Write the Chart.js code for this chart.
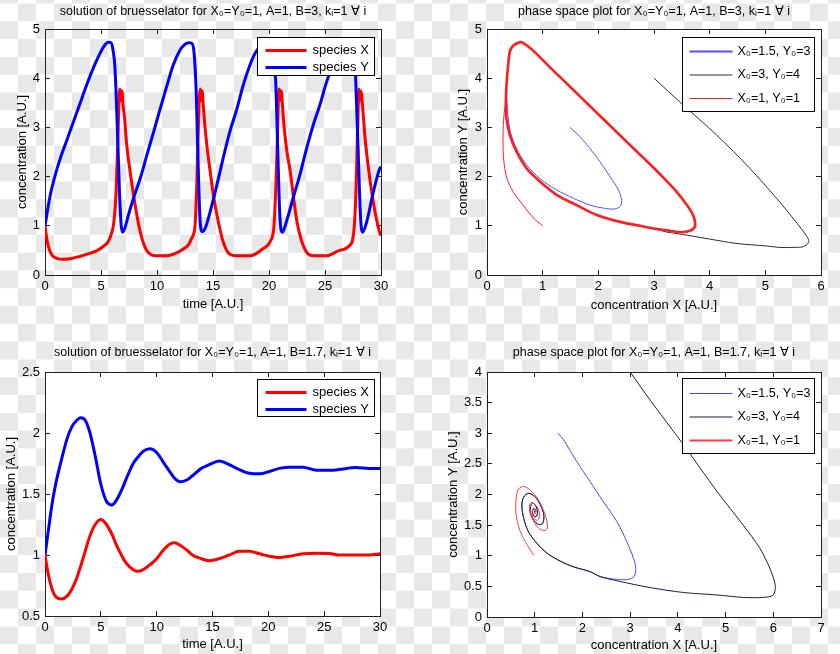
<!DOCTYPE html>
<html>
<head>
<meta charset="utf-8">
<script src="https://cdn.jsdelivr.net/npm/chart.js@4.4.1/dist/chart.umd.min.js"></script>
<style>
  html, body { margin: 0; padding: 0; }
  body {
    width: 840px; height: 654px; position: relative; overflow: hidden;
    background-color: #fff;
    background-image: repeating-conic-gradient(#e8e8e8 0% 25%, #ffffff 0% 50%);
    background-size: 36px 35.6px;
    background-position: 0 3.5px;
  }
  canvas { position: absolute; }
</style>
</head>
<body>
<canvas id="tl" width="420" height="327" style="left:0;top:0"></canvas>
<canvas id="tr" width="420" height="327" style="left:420px;top:0"></canvas>
<canvas id="bl" width="420" height="327" style="left:0;top:327px"></canvas>
<canvas id="br" width="420" height="327" style="left:420px;top:327px"></canvas>
<script>
// B=3, time series
const timeX3 = [0,0.15,0.3,0.6,1.05,1.65,2.25,3.15,4.0,4.6,5.2,5.65,5.95,6.15,6.35,6.5,6.62,6.7,6.78,6.87,
  6.97,7.1,7.3,7.6,7.9,8.2,8.5,8.8,9.1,9.5,10.0,10.9,11.75,12.35,12.8,13.1,13.4,13.55,13.7,13.8,
  13.87,13.95,14.03,14.13,14.25,14.45,14.75,15.05,15.35,15.9,16.5,17.1,18.3,19.5,20.1,20.45,20.7,20.85,20.93,21.01,
  21.1,21.2,21.35,21.6,21.9,22.2,22.5,22.9,23.4,24.0,25.15,26.3,27.2,27.6,27.8,27.95,28.03,28.11,28.2,28.33,
  28.57,29.0,29.46,29.9,30];
const speciesX3 = [1.0,0.75,0.58,0.41,0.34,0.32,0.33,0.38,0.44,0.49,0.58,0.68,0.85,1.08,1.69,2.71,3.6,3.78,3.55,3.74,
  3.45,3.2,2.64,2.1,1.63,1.22,0.88,0.64,0.49,0.41,0.39,0.39,0.45,0.53,0.61,0.75,1.02,1.83,3.05,3.65,
  3.78,3.55,3.74,3.45,3.1,2.64,2.1,1.6,1.22,0.68,0.42,0.39,0.39,0.54,0.68,1.02,2.37,3.6,3.78,3.55,
  3.74,3.45,3.0,2.51,2.1,1.56,1.08,0.7,0.45,0.39,0.39,0.5,0.6,0.95,1.96,3.3,3.78,3.55,3.74,3.5,
  2.8,1.96,1.29,0.85,0.8];
const timeY3 = [0,0.45,0.9,1.35,1.95,2.55,3.15,3.7,4.3,4.9,5.3,5.65,5.9,6.05,6.25,6.45,6.65,6.8,6.95,7.15,
  7.45,7.9,8.5,9.1,9.7,10.3,10.9,11.45,12.05,12.5,12.85,13.1,13.3,13.5,13.7,13.85,14.05,14.3,14.75,15.35,
  15.9,16.5,17.1,17.7,18.3,18.8,19.3,19.75,20.1,20.3,20.45,20.6,20.8,20.98,21.2,21.55,22.15,22.75,23.35,23.95,
  24.55,25.15,25.7,26.2,26.7,27.1,27.4,27.6,27.75,27.98,28.18,28.36,28.72,29.32,29.9,30];
const speciesY3 = [1.0,1.6,2.02,2.36,2.74,3.12,3.5,3.85,4.2,4.5,4.66,4.73,4.72,4.6,4.2,3.05,1.69,1.02,0.87,0.97,
  1.22,1.56,1.96,2.44,2.91,3.39,3.86,4.27,4.57,4.69,4.72,4.71,4.54,3.73,2.03,1.1,0.88,0.95,1.29,1.83,
  2.37,2.91,3.35,3.86,4.27,4.52,4.66,4.72,4.7,4.5,4.2,3.93,2.37,1.15,0.87,1.08,1.56,2.03,2.57,3.05,
  3.46,3.93,4.25,4.5,4.66,4.72,4.68,4.5,3.93,2.37,1.15,0.87,1.08,1.69,2.17,2.2];

// B=1.7, time series
const time17 = [0,0.3,0.6,1.0,1.5,2.0,2.4,2.8,3.2,3.6,4.0,4.5,5.0,5.5,6.0,6.4,6.9,7.3,7.9,8.3,
  8.8,9.4,10.0,10.6,11.2,11.6,12.1,12.7,13.2,14.0,14.7,15.6,16.5,17.4,18.3,19.2,20.1,21.0,21.9,23.1,
  24.3,25.5,26.3,27.8,29.0,30];
const speciesX17 = [1.0,0.84,0.73,0.655,0.64,0.665,0.72,0.80,0.91,1.03,1.15,1.25,1.29,1.25,1.17,1.08,0.99,0.93,0.88,0.866,
  0.88,0.92,0.97,1.04,1.09,1.10,1.08,1.04,1.0,0.97,0.953,0.97,1.0,1.03,1.03,1.01,0.99,0.98,0.99,1.01,
  1.015,1.013,1.0,1.0,1.0,1.01];
const speciesY17 = [1.0,1.2,1.40,1.6,1.79,1.96,2.05,2.10,2.126,2.105,2.01,1.81,1.58,1.44,1.41,1.45,1.54,1.63,1.75,1.80,
  1.85,1.87,1.84,1.76,1.68,1.63,1.60,1.615,1.65,1.71,1.74,1.77,1.74,1.70,1.67,1.665,1.685,1.71,1.72,1.72,
  1.695,1.695,1.70,1.717,1.71,1.709];

// B=3, phase space (limit cycle + the three starts)
const cycX3 = [3.52,3.28,3.02,2.75,2.39,1.97,1.61,1.25,0.95,0.71,0.53,0.41,0.35,0.34,0.35,0.38,0.41,0.47,0.59,0.65,
  0.83,1.07,1.37,1.67,1.97,2.27,2.57,2.8,3.02,3.22,3.40,3.58,3.70,3.74,3.67];
const cycY3 = [0.87,0.9,0.94,1.0,1.08,1.22,1.42,1.63,1.9,2.17,2.51,2.85,3.18,3.52,3.86,4.27,4.54,4.66,4.73,4.72,
  4.56,4.29,3.96,3.63,3.3,2.97,2.64,2.39,2.15,1.92,1.7,1.44,1.22,1.01,0.91];
const blueX3 = [1.49,1.67,1.85,2.03,2.21,2.36,2.42,2.39,2.27,2.09,1.85,1.55,1.25,0.95,0.71,0.53,0.42,0.37];
const blueY3 = [3.0,2.81,2.57,2.30,2.0,1.73,1.52,1.39,1.34,1.36,1.42,1.56,1.73,1.96,2.24,2.57,2.91,3.32];
const blackX3 = [3.0,3.52,4.12,4.72,5.2,5.55,5.73,5.78,5.75,5.66,5.45,5.26,5.02,4.49,4.0,3.59,3.2];
const blackY3 = [4.0,3.46,2.85,2.17,1.56,1.08,0.81,0.7,0.62,0.57,0.56,0.56,0.59,0.64,0.73,0.81,0.88];
const redX3 = [1.0,0.84,0.65,0.47,0.36,0.31,0.29,0.29,0.31,0.34];
const redY3 = [1.0,1.15,1.42,1.69,1.96,2.24,2.51,2.98,3.3,3.6];

// B=1.7, phase space
const blackX17 = [3.0,3.42,4.12,4.82,5.37,5.72,5.93,6.04,6.0,5.79,5.37,4.82,4.12,3.42,2.79,2.37,2.16,1.81,1.54,1.26,
  1.05,0.87,0.77,0.73,0.77,0.87,1.01,1.12,1.19,1.17,1.08,0.98,0.91,0.91,0.96,1.03,1.06,1.03,0.98,0.95,
  0.98,1.01,1.0,0.99];
const blackY17 = [4.0,3.54,2.81,2.05,1.50,1.12,0.79,0.52,0.36,0.32,0.32,0.36,0.40,0.48,0.58,0.66,0.74,0.82,0.91,1.04,
  1.20,1.39,1.61,1.83,1.96,2.02,1.96,1.83,1.67,1.53,1.51,1.58,1.69,1.80,1.86,1.80,1.71,1.64,1.65,1.72,
  1.77,1.75,1.71,1.73];
const blueX17 = [1.49,1.6,1.67,1.88,2.16,2.44,2.72,2.93,3.07,3.12,3.08,2.93,2.65,2.37];
const blueY17 = [3.0,2.9,2.81,2.54,2.21,1.88,1.56,1.23,0.96,0.79,0.66,0.61,0.62,0.66];
const redX17 = [0.98,0.84,0.70,0.61,0.61,0.66,0.77,0.91,1.08,1.22,1.27,1.22,1.08,0.98,0.91,0.89,0.94,1.05,1.10,1.06,
  0.98,0.94,0.98,1.03,1.01,0.99];
const redY17 = [1.01,1.18,1.39,1.67,1.94,2.09,2.13,2.07,1.91,1.67,1.47,1.41,1.45,1.56,1.69,1.83,1.87,1.80,1.67,1.58,
  1.61,1.69,1.76,1.73,1.68,1.72];

const phaseLabels = ['X₀=1.5, Y₀=3', 'X₀=3, Y₀=4', 'X₀=1, Y₀=1'];

const FONT = '"Liberation Sans", Arial, Helvetica, sans-serif';
Chart.defaults.font.family = FONT;
Chart.defaults.font.size = 13;
Chart.defaults.color = '#000';

const pts = (xs, ys) => xs.map((x, i) => ({x: x, y: ys[i]}));

// white plot area where the picture has one
const plotBg = {
  id: 'plotBg',
  beforeDraw(chart, args, o) {
    if (!o.color) return;
    const a = chart.chartArea;
    chart.ctx.save();
    chart.ctx.fillStyle = o.color;
    chart.ctx.fillRect(a.left, a.top, a.width, a.height);
    chart.ctx.restore();
  }
};

// boxed legend inside the axes, top right (matlab style)
const boxLegend = {
  id: 'boxLegend',
  afterDatasetsDraw(chart, args, o) {
    const {ctx, chartArea: a} = chart;
    const left = Math.round(a.right - o.right - o.width) + 0.5;
    const top = Math.round(a.top + o.top) + 0.5;
    ctx.save();
    ctx.fillStyle = '#fff';
    ctx.fillRect(left, top, o.width, o.height);
    ctx.strokeStyle = '#000';
    ctx.lineWidth = 1;
    ctx.strokeRect(left, top, o.width, o.height);
    ctx.font = o.size + 'px ' + FONT;
    ctx.textBaseline = 'middle';
    chart.data.datasets.forEach((ds, i) => {
      const y = top + o.first + i * o.step;
      ctx.strokeStyle = ds.borderColor;
      ctx.lineWidth = ds.legendWidth || ds.borderWidth;
      ctx.beginPath();
      ctx.moveTo(left + o.pad, y);
      ctx.lineTo(left + o.pad + o.len, y);
      ctx.stroke();
      ctx.fillStyle = '#000';
      ctx.fillText(ds.label, left + o.pad + o.len + o.gap, y);
    });
    ctx.restore();
  }
};

const fmt = v => String(+v.toFixed(2));

function axes(s) {
  const grid = {drawOnChartArea: false, tickLength: -5, color: '#222'};
  const border = {color: '#222'};
  const font = {size: 13};
  return {
    x: {type: 'linear', position: 'bottom', min: s.x[0], max: s.x[1],
      ticks: {stepSize: s.x[2], padding: 9, color: '#000', font: font, callback: fmt},
      title: {display: true, text: s.xTitle, color: '#000', font: font, padding: {top: 0, bottom: s.xtPad}},
      grid: grid, border: border, afterFit: sc => { sc.height = s.b; }},
    x2: {type: 'linear', position: 'top', min: s.x[0], max: s.x[1],
      ticks: {stepSize: s.x[2], display: false},
      grid: grid, border: border, afterFit: sc => { sc.height = s.t; }},
    y: {type: 'linear', position: 'left', min: s.y[0], max: s.y[1],
      ticks: {stepSize: s.y[2], padding: 10, color: '#000', font: font, callback: fmt},
      title: {display: true, text: s.yTitle, color: '#000', font: font, padding: {top: s.ytPad, bottom: 0}},
      grid: grid, border: border, afterFit: sc => { sc.width = s.l; }},
    y2: {type: 'linear', position: 'right', min: s.y[0], max: s.y[1],
      ticks: {stepSize: s.y[2], display: false},
      grid: grid, border: border, afterFit: sc => { sc.width = s.r; }}
  };
}

function options(s) {
  return {
    responsive: false,
    animation: false,
    devicePixelRatio: 1,
    layout: {autoPadding: false, padding: 0},
    plugins: {
      legend: {display: false},
      tooltip: {enabled: false},
      title: {display: true, text: s.title, fullSize: false, color: '#000',
        font: {size: 12.5, weight: 'normal'}, padding: {top: s.titleTop, bottom: 0}},
      plotBg: {color: s.bg},
      boxLegend: s.legend
    },
    scales: axes(s)
  };
}

const timeLine = {showLine: true, pointRadius: 0, borderWidth: 3, cubicInterpolationMode: 'monotone'};
const phaseLine = {showLine: true, pointRadius: 0, borderWidth: 1, tension: 0.3};

// title block: font 12.5 -> line height 15
new Chart(document.getElementById('tl'), {
  type: 'scatter',
  data: {datasets: [
    {...timeLine, label: 'species X', data: pts(timeX3, speciesX3), borderColor: '#ff0000', order: 2},
    {...timeLine, label: 'species Y', data: pts(timeY3, speciesY3), borderColor: '#0000ff', order: 1}
  ]},
  options: options({title: 'solution of bruesselator for X₀=Y₀=1, A=1, B=3, kᵢ=1 ∀ i',
    x: [0, 30, 5], y: [0, 5, 1], l: 45, r: 39, t: 9.5, b: 52, xtPad: 15.2, ytPad: 14.2, titleTop: 4.5, bg: null,
    xTitle: 'time [A.U.]', yTitle: 'concentration [A.U.]',
    legend: {right: 7, top: 8, width: 117, height: 38, first: 13, step: 17, pad: 8, len: 41, gap: 6, size: 13}}),
  plugins: [plotBg, boxLegend]
});

new Chart(document.getElementById('tr'), {
  type: 'scatter',
  data: {datasets: [
    {...phaseLine, label: phaseLabels[0], borderColor: 'rgb(80,80,255)', legendWidth: 2, order: 3,
      data: pts([...blueX3, ...cycX3.slice(14), ...cycX3.slice(0, 15)], [...blueY3, ...cycY3.slice(14), ...cycY3.slice(0, 15)])},
    {...phaseLine, label: phaseLabels[1], borderColor: 'rgb(45,45,45)', order: 2,
      data: pts([...blackX3, ...cycX3.slice(2), ...cycX3.slice(0, 3)], [...blackY3, ...cycY3.slice(2), ...cycY3.slice(0, 3)])},
    {...phaseLine, label: phaseLabels[2], borderColor: 'rgb(255,30,30)', order: 1,
      segment: {borderWidth: c => c.p0DataIndex >= redX3.length - 1 ? 2.6 : 1},
      data: pts([...redX3, ...cycX3.slice(14), ...cycX3, ...cycX3.slice(0, 20)], [...redY3, ...cycY3.slice(14), ...cycY3, ...cycY3.slice(0, 20)])}
  ]},
  options: options({title: 'phase space plot for X₀=Y₀=1, A=1, B=3, kᵢ=1 ∀ i',
    x: [0, 6, 1], y: [0, 5, 1], l: 67, r: 19, t: 9.5, b: 52, xtPad: 14.2, ytPad: 35.2, titleTop: 4.5, bg: '#fff',
    xTitle: 'concentration X [A.U.]', yTitle: 'concentration Y [A.U.]',
    legend: {right: 7, top: 8, width: 132, height: 74, first: 14, step: 23.5, pad: 7, len: 43, gap: 5, size: 12.5}}),
  plugins: [plotBg, boxLegend]
});

new Chart(document.getElementById('bl'), {
  type: 'scatter',
  data: {datasets: [
    {...timeLine, label: 'species X', data: pts(time17, speciesX17), borderColor: '#ff0000', order: 2},
    {...timeLine, label: 'species Y', data: pts(time17, speciesY17), borderColor: '#0000ff', order: 1}
  ]},
  options: options({title: 'solution of bruesselator for X₀=Y₀=1, A=1, B=1.7, kᵢ=1 ∀ i',
    x: [0, 30, 5], y: [0.5, 2.5, 0.5], l: 45, r: 40, t: 11.5, b: 38, xtPad: 2.2, ytPad: 3.2, titleTop: 18.5, bg: '#fff',
    xTitle: 'time [A.U.]', yTitle: 'concentration [A.U.]',
    legend: {right: 6, top: 7, width: 117, height: 37, first: 13, step: 17, pad: 8, len: 41, gap: 6, size: 13}}),
  plugins: [plotBg, boxLegend]
});

new Chart(document.getElementById('br'), {
  type: 'scatter',
  data: {datasets: [
    {...phaseLine, label: phaseLabels[0], borderColor: 'rgb(70,70,255)', order: 3,
      data: pts([...blueX17, ...blackX17.slice(16)], [...blueY17, ...blackY17.slice(16)])},
    {...phaseLine, label: phaseLabels[1], borderColor: 'rgb(30,30,60)', order: 2,
      data: pts(blackX17, blackY17)},
    {...phaseLine, label: phaseLabels[2], borderColor: 'rgb(255,60,60)', legendWidth: 2, order: 1,
      data: pts(redX17, redY17)}
  ]},
  options: options({title: 'phase space plot for X₀=Y₀=1, A=1, B=1.7, kᵢ=1 ∀ i',
    x: [0, 7, 1], y: [0, 4, 0.5], l: 67, r: 19, t: 11.5, b: 37, xtPad: 1.2, ytPad: 25.2, titleTop: 18.5, bg: '#fff',
    xTitle: 'concentration X [A.U.]', yTitle: 'concentration Y [A.U.]',
    legend: {right: 7, top: 6, width: 132, height: 75, first: 15, step: 23.5, pad: 7, len: 43, gap: 5, size: 12.5}}),
  plugins: [plotBg, boxLegend]
});
</script>
</body>
</html>
